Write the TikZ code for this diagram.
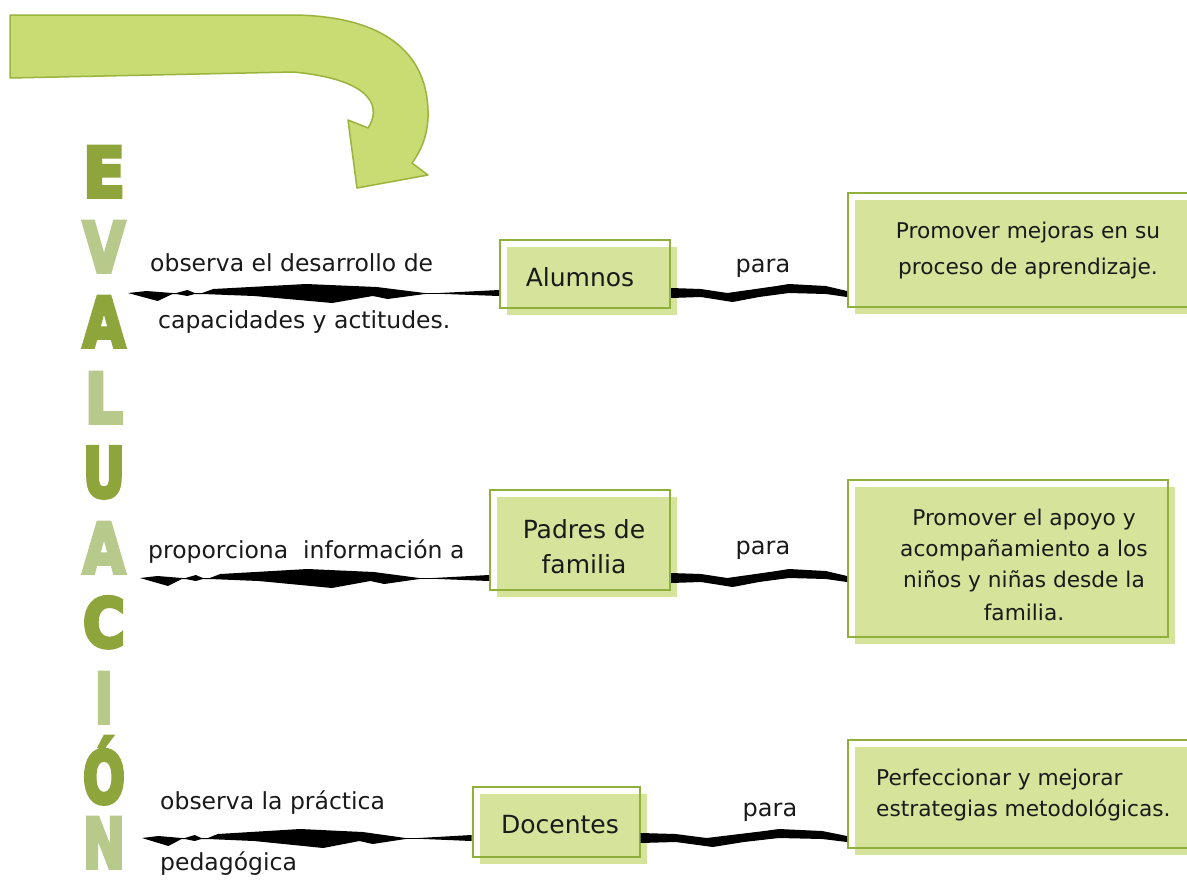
\documentclass[tikz,border=0pt]{standalone}
\usepackage{fontspec}
\setmainfont{DejaVu Sans}
\newfontfamily\heavyfont[FakeBold=6]{DejaVu Sans Bold}
\usetikzlibrary{calc,shadows}
\definecolor{arrowfill}{HTML}{C9DC74}
\definecolor{arrowline}{HTML}{9AB33C}
\definecolor{boxfill}{HTML}{D5E39B}
\definecolor{boxline}{HTML}{8FB03A}
\definecolor{darkL}{HTML}{8DA53A}
\definecolor{lightL}{HTML}{B7C98B}
\definecolor{txt}{HTML}{1A1A1A}
\newcommand\leftbrush[2]{%
\fill[black] (#1)
 -- ($(#1)!.05!(#2)+(0,-2)$)
 -- ($(#1)!.12!(#2)+(0,0)$)
 -- ($(#1)!.13!(#2)+(0,0)$)
 -- ($(#1)!.16!(#2)+(0,-3)$)
 -- ($(#1)!.18!(#2)+(0,0)$)
 -- ($(#1)!.20!(#2)+(0,0)$)
 -- ($(#1)!.23!(#2)+(0,-4)$)
 -- ($(#1)!.48!(#2)+(0,-9)$)
 -- ($(#1)!.67!(#2)+(0,-6)$)
 -- ($(#1)!.80!(#2)+(0,0)$)
 -- ($(#1)!.84!(#2)+(0,0)$)
 -- ($(#2)+(0,-3)$)
 -- ($(#2)+(0,3)$)
 -- ($(#1)!.84!(#2)+(0,0.8)$)
 -- ($(#1)!.80!(#2)+(0,1)$)
 -- ($(#1)!.70!(#2)+(0,6)$)
 -- ($(#1)!.66!(#2)+(0,3)$)
 -- ($(#1)!.55!(#2)+(0,10)$)
 -- ($(#1)!.34!(#2)+(0,3)$)
 -- ($(#1)!.20!(#2)+(0,1)$)
 -- ($(#1)!.18!(#2)+(0,1)$)
 -- ($(#1)!.16!(#2)+(0,3)$)
 -- ($(#1)!.13!(#2)+(0,1)$)
 -- ($(#1)!.12!(#2)+(0,1)$)
 -- ($(#1)!.08!(#2)+(0,8)$)
 -- cycle;}
\newcommand\rightbrush[2]{%
\fill[black] ($(#1)+(0,-5)$)
 -- ($(#1)!.17!(#2)+(0,-4)$)
 -- ($(#1)!.32!(#2)+(0,0)$)
 -- ($(#1)!.6!(#2)+(0,-7)$)
 -- ($(#1)!.67!(#2)+(0,-9)$)
 -- ($(#1)!.88!(#2)+(0,-7)$)
 -- ($(#2)+(0,-2)$)
 -- ($(#2)+(0,4)$)
 -- ($(#1)!.88!(#2)+(0,1)$)
 -- ($(#1)!.67!(#2)+(0,0)$)
 -- ($(#1)!.5!(#2)+(0,4)$)
 -- ($(#1)!.35!(#2)+(0,9)$)
 -- ($(#1)!.17!(#2)+(0,4)$)
 -- ($(#1)+(0,5)$)
 -- cycle;}
\begin{document}
\begin{tikzpicture}[x=1pt,y=-1pt,
  box/.style={draw=boxline, line width=2pt, inner sep=0pt,
    general shadow={fill=boxfill, shadow xshift=7pt, shadow yshift=-7pt}},
  txtnode/.style={inner sep=0pt, text=txt, font=\fontsize{23.5}{31}\selectfont},
  rtxt/.style={txtnode, font=\fontsize{21.7}{31}\selectfont},
  ctxt/.style={txtnode, font=\fontsize{25}{35}\selectfont},
  letter/.style={inner sep=0pt, anchor=south}]
\useasboundingbox (0,0) rectangle (1187,879);
\fill[white] (0,0) rectangle (1187,879);

% big curved arrow
\filldraw[fill=arrowfill, draw=arrowline, line width=1.5pt, line join=round]
  (10,15) -- (290,15) .. controls (380,15) and (430,50) .. (428,118)
  .. controls (427,140) and (418,155) .. (412,163) -- (428,175) -- (357,188)
  -- (348,120) -- (368,128) .. controls (380,110) and (378,80) .. (293,72)
  -- (10,78) -- cycle;

% vertical word
\node[letter] (l1) at (104,197) {\resizebox{42pt}{50pt}{\color{darkL}\heavyfont E}};
\node[letter] (l2) at (104,272) {\resizebox{42pt}{50pt}{\color{lightL}\heavyfont V}};
\node[letter] (l3) at (104,347) {\resizebox{42pt}{50pt}{\color{darkL}\heavyfont A}};
\node[letter] (l4) at (104,423) {\resizebox{38pt}{50pt}{\color{lightL}\heavyfont L}};
\node[letter] (l5) at (104,498) {\resizebox{42pt}{50pt}{\color{darkL}\heavyfont U}};
\node[letter] (l6) at (104,573) {\resizebox{42pt}{50pt}{\color{lightL}\heavyfont A}};
\node[letter] (l7) at (104,648) {\resizebox{42pt}{50pt}{\color{darkL}\heavyfont C}};
\node[letter] (l8) at (104,723) {\resizebox{18pt}{50pt}{\color{lightL}\heavyfont I}};
\node[letter] (l9) at (104,804) {\resizebox{42pt}{66pt}{\color{darkL}\heavyfont Ó}};
\node[letter] (l10) at (104,868) {\resizebox{42pt}{50pt}{\color{lightL}\heavyfont N}};

% boxes
\node[box, minimum width=170pt, minimum height=68pt] (alumnos) at (585,274) {};
\node[ctxt] (alumnosT) at (580,277) {Alumnos};
\node[box, minimum width=180pt, minimum height=100pt] (padres) at (580,540) {};
\node[ctxt, align=center] (padresT) at (584,547) {Padres de\\familia};
\node[box, minimum width=167pt, minimum height=70pt] (docentes) at (556,822) {};
\node[ctxt] (docentesT) at (560,825) {Docentes};

\node[box, minimum width=362pt, minimum height=114pt] (r1) at (1029,250) {};
\node[rtxt, align=center, font=\fontsize{21.7}{36}\selectfont] (r1T) at (1028,251) {Promover mejoras en su\\proceso de aprendizaje.};
\node[box, minimum width=320pt, minimum height=157pt] (r2) at (1008,558) {};
\node[rtxt, align=center] (r2T) at (1024,565) {Promover el apoyo y\\acompañamiento a los\\niños y niñas desde la\\[2pt]familia.};
\node[box, minimum width=362pt, minimum height=108pt] (r3) at (1029,794) {};
\node[rtxt, align=left, anchor=west] (r3T) at (876,795) {Perfeccionar y mejorar\\estrategias metodológicas.};

% left texts
\node[txtnode, anchor=west] (t1a) at (150,263) {observa el desarrollo de};
\node[txtnode, anchor=west] (t1b) at (158,322) {capacidades y actitudes.};
\node[txtnode, anchor=west] (t2a) at (148,552) {proporciona\ \ información a};
\node[txtnode, anchor=west] (t3a) at (160,803) {observa la práctica};
\node[txtnode, anchor=west] (t3b) at (160,864) {pedagógica};

% para labels
\node[txtnode, font=\fontsize{24}{31}\selectfont] (p1) at (763,268) {para};
\node[txtnode, font=\fontsize{24}{31}\selectfont] (p2) at (763,550) {para};
\node[txtnode, font=\fontsize{24}{31}\selectfont] (p3) at (770,812) {para};

% connectors
\coordinate (s1) at (128,293);
\coordinate (e1) at (s1 -| alumnos.west);
\leftbrush{s1}{e1}
\coordinate (a1) at (s1 -| alumnos.east);
\coordinate (b1) at (s1 -| r1.west);
\rightbrush{a1}{b1}

\coordinate (s2) at (140,578);
\coordinate (e2) at (s2 -| padres.west);
\leftbrush{s2}{e2}
\coordinate (a2) at (s2 -| padres.east);
\coordinate (b2) at (s2 -| r2.west);
\rightbrush{a2}{b2}

\coordinate (s3) at (142,838);
\coordinate (e3) at (s3 -| docentes.west);
\leftbrush{s3}{e3}
\coordinate (a3) at (s3 -| docentes.east);
\coordinate (b3) at (s3 -| r3.west);
\rightbrush{a3}{b3}
\end{tikzpicture}
\end{document}
